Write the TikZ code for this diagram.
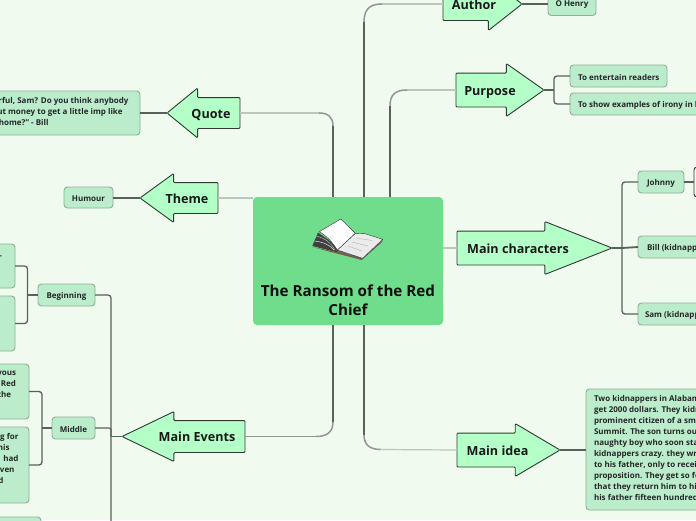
\documentclass[tikz,border=0pt]{standalone}
\usepackage{fontspec}
\setmainfont{Open Sans}
\usetikzlibrary{shapes.arrows,calc}
\definecolor{bgc}{HTML}{F0FAEE}
\definecolor{hubc}{HTML}{6FDD8B}
\definecolor{arrowc}{HTML}{B4FFC7}
\definecolor{boxc}{HTML}{BBEDCC}
\definecolor{boxl}{HTML}{8FAE96}
\definecolor{dark}{HTML}{2E3A32}
\definecolor{linkc}{HTML}{55635A}
\definecolor{midc}{HTML}{8D9A90}
\definecolor{lightc}{HTML}{BAC7BA}
\tikzset{
  hubnode/.style={fill=hubc,rounded corners=4pt,inner sep=0pt,outer sep=0pt},
  boxnode/.style={fill=boxc,draw=boxl,line width=0.9pt,rounded corners=3.5pt,inner sep=0pt,outer sep=0pt},
  boxtext/.style={font=\bfseries\fontsize{8}{11}\selectfont,text=black!85,inner sep=0pt,outer sep=0pt},
  headtext/.style={font=\bfseries\fontsize{12.6}{19}\selectfont,text=black!90,inner sep=0pt,outer sep=0pt,anchor=base},
  hubtext/.style={font=\bfseries\fontsize{15.2}{19}\selectfont,text=black!95,inner sep=0pt,outer sep=0pt,align=center},
  bigarrow/.style={single arrow,fill=arrowc,draw=dark,line width=0.9pt,inner sep=0pt,outer sep=0pt,rounded corners=1pt,single arrow head indent=0pt,anchor=tip},
  branch/.style={draw=linkc,line width=1.3pt,rounded corners=3pt},
  stub/.style={draw=linkc,line width=1.8pt},
  trunkdark/.style={draw=linkc,line width=2.2pt},
  trunkmid/.style={draw=midc,line width=1.5pt},
  trunklight/.style={draw=lightc,line width=1.2pt},
}
% name, tip x, tip y, length, half head, head length, half body, rotation
\newcommand{\bigarrownode}[8]{%
  \pgfmathsetmacro{\tipang}{2*atan(#5/#6)}%
  \pgfmathsetmacro{\hext}{#5-#7}%
  \pgfmathsetmacro{\bodyw}{2*#7}%
  \node[bigarrow,shape border rotate=#8,minimum height=#4pt,
        single arrow head extend=\hext pt,single arrow tip angle=\tipang] (#1) at (#2,#3) {\rule{0pt}{\bodyw pt}};%
}
\begin{document}
\begin{tikzpicture}[x=1pt,y=-1pt]
\useasboundingbox (0,0) rectangle (696,520);
\fill[bgc] (0,0) rectangle (696,520);

% hub
\node[hubnode,minimum width=190pt,minimum height=128pt] (hub) at (348,261) {};

% big arrows
\bigarrownode{author}{522}{4}{79}{26}{33}{16}{0}
\bigarrownode{purpose}{544}{90}{88}{26}{37}{16.5}{0}
\bigarrownode{chars}{612}{248}{155}{26}{66}{16.5}{0}
\bigarrownode{idea}{560}{450}{103}{26}{44}{16.5}{0}
\bigarrownode{quote}{167}{113}{73}{24.5}{30}{15}{180}
\bigarrownode{theme}{140}{198}{78}{24}{33}{15}{180}
\bigarrownode{events}{122}{436.5}{123}{24.5}{51}{15.5}{180}

% boxes
\node[boxnode,minimum width=48pt,minimum height=24pt] (ohenry) at (572,3.5) {};
\node[boxnode,minimum width=97pt,minimum height=22pt] (enter) at (618.5,76) {};
\node[boxnode,minimum width=140pt,minimum height=22pt,anchor=west] (irony) at (570,104) {};
\node[boxnode,minimum width=46pt,minimum height=22pt] (johnny) at (661,182) {};
\node[fill=bgc,draw=dark,line width=0.9pt,rounded corners=3pt,minimum width=20pt,minimum height=30pt,anchor=west,inner sep=0pt,outer sep=0pt] (johnnykid) at (694,182) {};
\node[boxnode,minimum width=100pt,minimum height=22pt,anchor=west] (bill) at (638,247) {};
\node[boxnode,minimum width=100pt,minimum height=22pt,anchor=west] (sam) at (638,314) {};
\node[boxnode,minimum width=150pt,minimum height=121pt,anchor=west] (ideatext) at (586,449.5) {};
\node[boxnode,minimum width=180pt,minimum height=44pt,anchor=east] (quotetext) at (140,113) {};
\node[boxnode,minimum width=49pt,minimum height=21pt] (humour) at (88.5,197.5) {};
\node[boxnode,minimum width=57pt,minimum height=22pt] (begin) at (66.5,295) {};
\node[boxnode,minimum width=43pt,minimum height=22pt] (middle) at (73.5,428) {};
\node[boxnode,minimum width=40pt,minimum height=44pt,anchor=east] (b1) at (15,266) {};
\node[boxnode,minimum width=40pt,minimum height=55pt,anchor=east] (b2) at (15,323.5) {};
\node[boxnode,minimum width=60pt,minimum height=55pt,anchor=east] (m1) at (29,391.5) {};
\node[boxnode,minimum width=60pt,minimum height=76pt,anchor=east] (m2) at (29,465) {};
\node[boxnode,minimum width=70pt,minimum height=30pt,anchor=north east] (e1) at (41,517) {};

% connectors from the hub
\coordinate (tauthor) at (364,197);
\coordinate (tpurpose) at (390,197);
\coordinate (tquote) at (333,197);
\coordinate (tevents) at (333,325);
\coordinate (tidea) at (364,325);
\draw[trunklight] (380,4) -- (author.tail);
\draw[trunkmid] (364,22) .. controls (364,9) and (370,4) .. (382,4);
\draw[trunkdark] (tauthor) -- (364,22);
\draw[trunklight] (406,90) -- (purpose.tail);
\draw[trunkmid] (390,106) .. controls (390,95) and (395,90) .. (407,90);
\draw[trunkdark] (tpurpose) -- (390,106);
\draw[trunklight] (320,113) -- (quote.tail);
\draw[trunkmid] (333,126) .. controls (333,117) and (328,113) .. (319,113);
\draw[trunkdark] (tquote) -- (333,126);
\draw[trunklight] (hub.west |- theme.tail) -- (theme.tail);
\draw[trunklight] (hub.east |- chars.tail) -- (chars.tail);
\draw[trunkdark] (tevents) -- (333,422);
\draw[trunkmid] (333,422) .. controls (333,432) and (327,436.5) .. (316,436.5);
\draw[draw=midc,line width=1pt] (317,436.5) -- (events.tail);
\draw[trunkdark] (tidea) -- (364,435);
\draw[trunkmid] (364,435) .. controls (364,445) and (370,449.5) .. (381,449.5);
\draw[trunklight] (380,449.5) -- (idea.tail);

% right side
\draw[stub] (author.tip) -- (ohenry.west |- author.tip);
\coordinate (jp) at (554,90);
\draw[stub] (purpose.tip) -- (jp);
\draw[branch] (enter.west) -| (jp) |- (irony.west);
\coordinate (jc) at (622,248);
\draw[stub] (chars.tip) -- (jc);
\draw[branch] (johnny.west) -| (jc) |- (sam.west);
\draw[stub] (jc) -- (bill.west);
\draw[stub] (johnny.east) -- (johnnykid.west);
\draw[stub] (idea.tip) -- (ideatext.west |- idea.tip);

% left side
\draw[stub] (quote.tip) -- (quotetext.east);
\draw[stub] (theme.tip) -- (humour.east |- theme.tip);
\coordinate (je) at (111,436.5);
\coordinate (jend) at (111,530);
\draw[stub] (events.tip) -- (je);
\draw[branch] (begin.east) -| (jend);
\draw[draw=linkc,line width=1.1pt,rounded corners=2pt] (middle.east) -| (111,436.5);
\coordinate (jb) at (27.5,295);
\draw[branch] (b1.east) -| (jb) |- (b2.east);
\draw[branch] (jb) -- (begin.west);
\coordinate (jm) at (42,428);
\draw[branch] (m1.east) -| (jm) |- (m2.east);
\draw[branch] (jm) -- (middle.west);

% book
\fill[black!75] (318,232.5) -- (312.3,246) -- (337.3,252.3) -- (340,248) -- cycle;
\fill[brown!70!black] (312,247) -- (361.7,260) -- (382.7,241) -- (362,257) -- cycle;
\fill[black!60] (337.3,250) -- (362.7,258.8) -- (382.7,239.8) -- (381,243) -- (361.7,259.6) -- (337.3,252.5) -- cycle;
\fill[black!8,draw=black!80,line width=0.4pt] (355.3,233.3) -- (365,233.7) -- (382.7,239.3) -- (362.7,258.3) -- (337.3,250) -- cycle;
\draw[black!30,line width=0.4pt] (356,238) -- (372,240.5) (352,242) -- (368,246) (348,246) -- (362,251);
\fill[white,draw=black!80,line width=0.4pt] (319.3,231.7) -- (340.7,219) .. controls (346,224) and (351,229) .. (355.3,233.3) -- (337.3,250) .. controls (333,243) and (327,236) .. (319.3,231.7) -- cycle;
\draw[white!70!black,line width=0.5pt] (316,236) .. controls (325,238) and (331,243) .. (335,250);
\draw[white,line width=0.4pt] (314.5,241) .. controls (323,242) and (330,245) .. (334,250);

% texts
\node[hubtext] (hubtitle) at (348,300.5) {The Ransom of the Red\\Chief};
\node[headtext] (tauthorl) at (474,9) {Author};
\node[headtext] (tpurposel) at (490,95) {Purpose};
\node[headtext] (tcharsl) at (518,253) {Main characters};
\node[headtext] (tideal) at (497.5,455) {Main idea};
\node[headtext] (tquotel) at (211,118) {Quote};
\node[headtext] (tthemel) at (187,203) {Theme};
\node[headtext] (teventsl) at (197,441.5) {Main Events};

\node[boxtext] (ohenryl) at (572,5) {O Henry};
\node[boxtext,anchor=west] (enterl) at (578,77) {To entertain readers};
\node[boxtext,anchor=west] (ironyl) at (578,105) {To show examples of irony in literature};
\node[boxtext] (johnnyl) at (661,183) {Johnny};
\node[boxtext,anchor=west] (billl) at (647,248) {Bill (kidnapper)};
\node[boxtext,anchor=west] (saml) at (645,315) {Sam (kidnapper)};
\node[boxtext,anchor=north west,align=left] (ideal) at (594,395.5) {Two kidnappers in Alabama\\get 2000 dollars. They kidnap\\prominent citizen of a small\\Summit. The son turns out\\naughty boy who soon starts\\kidnappers crazy. they write\\to his father, only to receive\\proposition. They get so fed\\that they return him to his\\his father fifteen hundred};
\node[boxtext,anchor=north east,align=right] (quotel) at (128.5,97.5) {rful, Sam? Do you think anybody\\out money to get a little imp like\hspace*{6pt}\null\\home?" - Bill\hspace*{80pt}\null};
\node[boxtext] (humourl) at (88.5,199) {Humour};
\node[boxtext] (beginl) at (66.5,296) {Beginning};
\node[boxtext] (middlel) at (73.5,429) {Middle};
\node[boxtext,anchor=north east,align=right] (m1l) at (16,371.5) {vous\\Red\\the\hspace*{5pt}\null};
\node[boxtext,anchor=north east,align=right] (m2l) at (18.5,433.5) {g for\\his\hspace*{9pt}\null\\had\\ven\hspace*{4pt}\null\\d\hspace*{15pt}\null};
\node[boxtext,anchor=east] (b1l) at (2,257) {-};
\end{tikzpicture}
\end{document}
